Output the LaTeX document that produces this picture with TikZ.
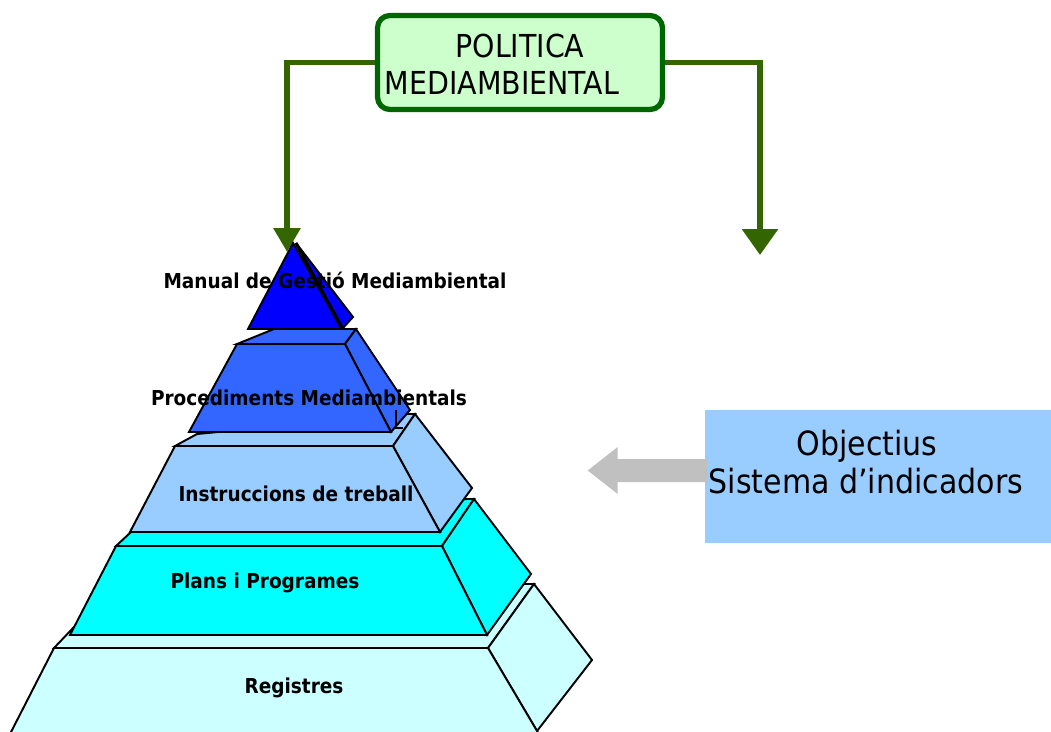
\documentclass[tikz,border=0pt]{standalone}
\usepackage{fontspec}
\setmainfont{DejaVu Sans Condensed}
\usetikzlibrary{positioning, arrows.meta}

% Cores
\definecolor{polfill}{HTML}{CCFFCC}
\definecolor{polborder}{HTML}{006600}
\definecolor{linegreen}{HTML}{336600}
\definecolor{lay1}{HTML}{0000FF}
\definecolor{lay2}{HTML}{3366FF}
\definecolor{lay3}{HTML}{99CCFF}
\definecolor{lay4}{HTML}{00FFFF}
\definecolor{lay5}{HTML}{CCFFFF}
\definecolor{objfill}{HTML}{99CCFF}
\definecolor{arrowgray}{HTML}{C0C0C0}

\begin{document}
\begin{tikzpicture}[
    x=0.02cm, y=-0.02cm, % 1 unidade = 1 pixel da figura
    % Estilos
    face/.style={draw=black, line width=1.1pt, line join=miter},
    lbl/.style={anchor=base, inner sep=0pt, font=\fontsize{11.7}{13}\selectfont\bfseries},
    big/.style={anchor=base, inner sep=0pt, font=\fontsize{18}{21}\selectfont},
    pol_box/.style={draw=polborder, line width=3pt, fill=polfill,
        rounded corners=7pt, minimum width=5.7cm, minimum height=1.88cm},
    obj_box/.style={fill=objfill, minimum width=6.92cm, minimum height=2.66cm, inner sep=0pt},
    line/.style={draw=linegreen, line width=3.4pt}
]
    \useasboundingbox (0,0) rectangle (1051,731);

    % --- NÓS ---
    \node[pol_box] (pol) at (520,62.5) {};
    \node[big] (pol_a) at (520,57) {POLITICA};
    \node[big] (pol_b) at (502,94) {MEDIAMBIENTAL};

    \node[obj_box] (obj) at (878,476.5) {};
    \node[big, font=\fontsize{19}{21}\selectfont] (obj_a) at (867,455) {Objectius};
    \node[big, font=\fontsize{19}{21}\selectfont] (obj_b) at (866,493) {Sistema d’indicadors};

    % Pontas das setas verdes
    \coordinate (tip_left) at (287,252);
    \coordinate (tip_right) at (760,255);

    % --- CONEXÕES ---
    \draw[line, -{Triangle[width=14.7pt, length=13.6pt]}] (pol.west) -| (tip_left);
    \draw[line, -{Triangle[width=19.8pt, length=14.7pt]}] (pol.east) -| (tip_right);

    % Seta cinza (do quadro de objectius)
    \fill[arrowgray] (obj.west) ++(3,-17.5) -- ++(-90,0) -- ++(0,-12) -- ++(-30,23.5)
        -- ++(30,23.5) -- ++(0,-12) -- ++(90,0) -- cycle;

    % --- PIRÂMIDE (de baixo para cima) ---
    % Nível 5
    \filldraw[face, fill=lay5] (54,648) -- (74,627) -- (523,584) -- (534,584) -- (488,648) -- cycle;
    \filldraw[face, fill=lay5] (488,648) -- (534,584) -- (592,660) -- (537,731) -- cycle;
    \filldraw[face, fill=lay5] (54,648) -- (488,648) -- (540,736) -- (9,736) -- cycle;

    % Nível 4
    \filldraw[face, fill=lay4] (116,546) -- (131,532) -- (467,499) -- (474,499) -- (442,546) -- cycle;
    \filldraw[face, fill=lay4] (442,546) -- (474,499) -- (531,574) -- (487,635) -- cycle;
    \filldraw[face, fill=lay4] (116,546) -- (442,546) -- (487,635) -- (70,635) -- cycle;

    % Nível 3
    \filldraw[face, fill=lay3] (175,446) -- (197,434) -- (407,414) -- (415,414) -- (393,446) -- cycle;
    \filldraw[face, fill=lay3] (393,446) -- (415,414) -- (472,488) -- (440,532) -- cycle;
    \filldraw[face, fill=lay3] (175,446) -- (393,446) -- (440,532) -- (130,532) -- cycle;

    % Nível 2
    \filldraw[face, fill=lay2] (237,344) -- (274,329) -- (356,329) -- (345,344) -- cycle;
    \filldraw[face, fill=lay2] (345,344) -- (356,329) -- (410,410) -- (391,432) -- cycle;
    \filldraw[face, fill=lay2] (237,344) -- (345,344) -- (391,432) -- (189,432) -- cycle;
    \draw[line width=1.2pt] (396,410) -- (396,428) -- (403,428);

    % Nível 1 (topo)
    \filldraw[face, fill=lay1] (296,243) -- (353,317) -- (343,328) -- cycle;
    \filldraw[face, fill=lay1] (293,243) -- (342,329) -- (248,329) -- cycle;
    \draw[line width=1.8pt] (296,243) -- (342,329);

    % Rótulos
    \node[lbl] (l1) at (335,288) {Manual de Gestió Mediambiental};
    \node[lbl] (l2) at (309,405) {Procediments Mediambientals};
    \node[lbl] (l3) at (296,501) {Instruccions de treball};
    \node[lbl] (l4) at (265,588) {Plans i Programes};
    \node[lbl] (l5) at (294,693) {Registres};

\end{tikzpicture}
\end{document}
